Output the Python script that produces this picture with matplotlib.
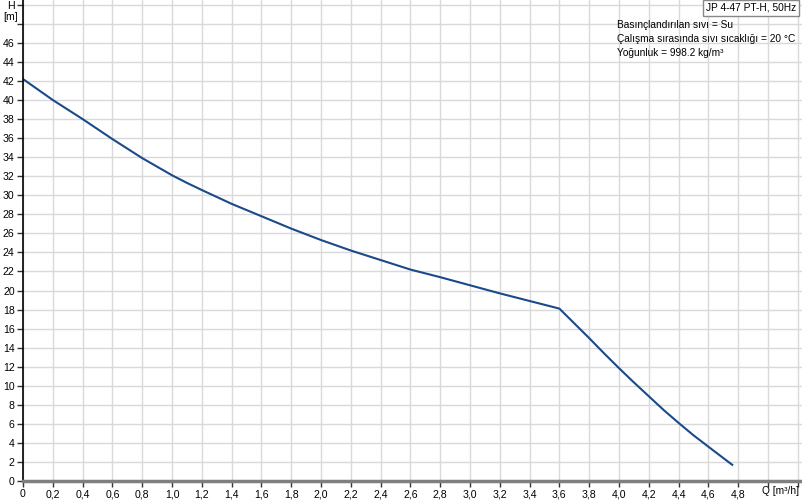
import numpy as np
import matplotlib.pyplot as plt

plt.rcParams['font.family'] = ['Liberation Sans', 'DejaVu Sans']

# Pompa eğrisi (okunan değerler)
q = [0, 0.1, 0.2, 0.3, 0.4, 0.5, 0.6, 0.7, 0.8, 0.9, 1.0, 1.1, 1.2, 1.4,
     1.6, 1.8, 2.0, 2.2, 2.4, 2.6, 2.8, 3.0, 3.2, 3.4, 3.6, 3.7, 3.8, 3.9,
     4.0, 4.1, 4.2, 4.3, 4.4, 4.5, 4.6, 4.76]
h = [42.2, 41.1, 40.0, 39.0, 38.0, 36.95, 35.9, 34.9, 33.9, 33.0, 32.1,
     31.3, 30.55, 29.1, 27.8, 26.5, 25.3, 24.2, 23.2, 22.2, 21.4, 20.55,
     19.7, 18.9, 18.1, 16.55, 15.0, 13.4, 11.85, 10.35, 8.9, 7.45, 6.1,
     4.8, 3.6, 1.7]

x_ticks = np.round(np.arange(0, 5.21, 0.2), 1)
y_ticks = np.arange(0, 51, 2)
x_labels = ["0"] + [f"{v:.1f}".replace(".", ",") if v <= 4.8 else "" for v in x_ticks[1:]]
y_labels = [str(v) if v <= 46 else "" for v in y_ticks]

title = "JP 4-47 PT-H, 50Hz"
info = ["Basınçlandırılan sıvı = Su",
        "Çalışma sırasında sıvı sıcaklığı = 20 °C",
        "Yoğunluk = 998.2 kg/m³"]

W, H = 803, 500
fig = plt.figure(figsize=(W / 100, H / 100), dpi=100)
ax = fig.add_axes([23 / W, 19 / H, 780 / W, 481 / H])

ax.plot(q, h, color="#1a4a8a", lw=1.5, solid_joinstyle="round")

ax.set_xlim(0, 5.235)
ax.set_ylim(0, 50.5)
ax.set_xticks(x_ticks)
ax.set_xticklabels(x_labels)
ax.set_yticks(y_ticks)
ax.set_yticklabels(y_labels)
ax.grid(True, color="#d9d9d9", lw=1.0)
ax.set_axisbelow(True)

ax.tick_params(axis="both", labelsize=7.6, length=4, width=1, color="#333333", pad=2)

for s in ["top", "right"]:
    ax.spines[s].set_visible(False)
ax.spines["left"].set_color("black")
ax.spines["left"].set_linewidth(1.2)
ax.spines["bottom"].set_color("#7f7f7f")
ax.spines["bottom"].set_linewidth(2.5)

# eksen başlıkları
fig.text(11 / W, 1 - 6 / H, "H", ha="center", va="center", fontsize=7.6)
fig.text(11 / W, 1 - 17 / H, "[m]", ha="center", va="center", fontsize=7.6)
fig.text(762 / W, 1 - 491 / H, "Q [m³/h]", ha="left", va="center", fontsize=7.3)

# kutu ve bilgi yazıları
fig.text(751 / W, 1 - 8 / H, title, ha="center", va="center", fontsize=7.3,
         bbox=dict(boxstyle="square,pad=0.3", fc="white", ec="#888888", lw=1))
for i, line in enumerate(info):
    fig.text(617 / W, 1 - (25 + 14 * i) / H, line, ha="left", va="center", fontsize=7.3)

fig.savefig("out.png", dpi=100)
